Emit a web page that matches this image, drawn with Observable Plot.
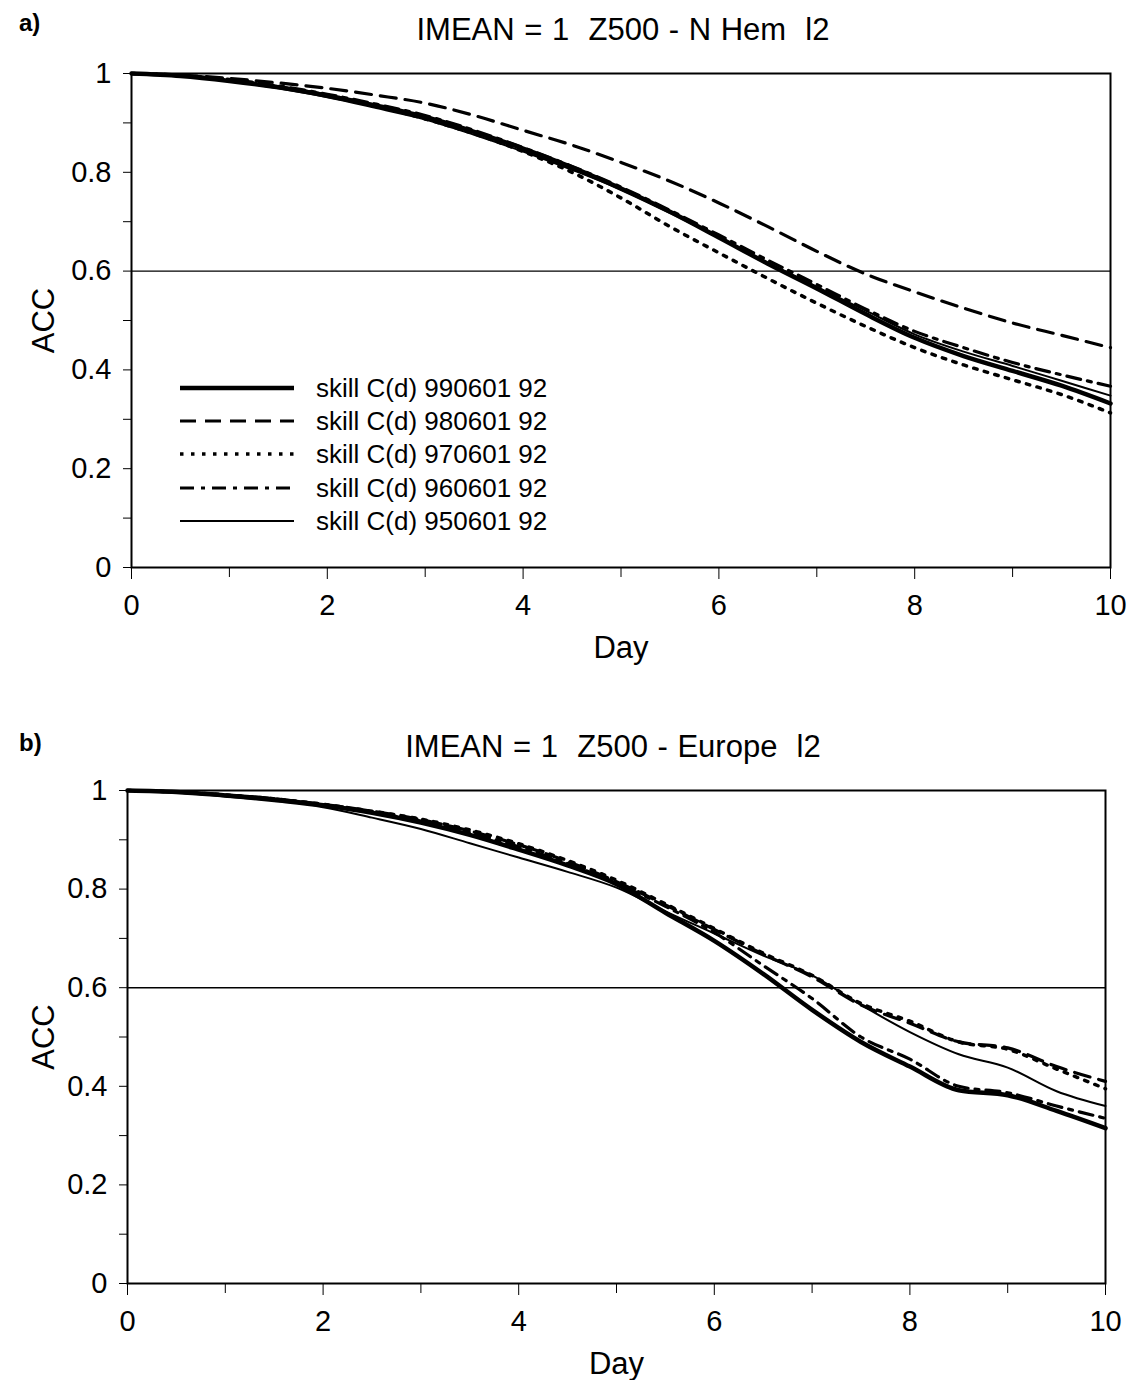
<!DOCTYPE html>
<html><head><meta charset="utf-8">
<script src="https://cdn.jsdelivr.net/npm/d3@7"></script>
<script src="https://cdn.jsdelivr.net/npm/@observablehq/plot@0.6"></script>
<style>
body{margin:0;background:#fff;font-family:"Liberation Sans",Arial,sans-serif;color:#000;}
#wrap{position:relative;width:1131px;height:1380px;overflow:hidden;background:#fff;}
.panel{position:absolute;left:0;width:1131px;}
.tag{position:absolute;font-weight:bold;font-size:24px;line-height:1;}
.title{position:absolute;font-size:31px;white-space:pre;line-height:1;transform:translateX(-50%);word-spacing:1px;}
.legend{position:absolute;font-size:26px;line-height:1;}
.legend .row{display:flex;align-items:center;height:33.3px;}
.legend svg{margin-right:20px;}
</style></head><body><div id="wrap"></div>
<script>
// ---- data ----
const days = [0,0.5,1,1.5,2,2.5,3,3.5,4,4.5,5,5.5,6,6.5,7,7.5,8,8.5,9,9.5,10];
const seriesNames = ["skill C(d) 990601 92","skill C(d) 980601 92","skill C(d) 970601 92","skill C(d) 960601 92","skill C(d) 950601 92"];

// panel a: Z500 - N Hem
const nhem990 = [1,.995,.985,.972,.955,.935,.912,.882,.848,.81,.767,.72,.668,.615,.565,.513,.465,.428,.398,.368,.332];
const nhem980 = [1,.997,.99,.981,.97,.956,.94,.915,.885,.855,.82,.782,.738,.69,.64,.594,.558,.525,.495,.47,.445];
const nhem970 = [1,.996,.987,.973,.956,.934,.908,.878,.842,.8,.748,.69,.637,.585,.535,.488,.445,.41,.38,.35,.313];
const nhem960 = [1,.996,.988,.975,.958,.938,.915,.885,.85,.812,.77,.723,.673,.622,.573,.523,.478,.445,.415,.39,.367];
const nhem950 = [1,.995,.985,.97,.952,.93,.907,.876,.842,.805,.765,.718,.668,.616,.568,.52,.472,.437,.408,.378,.348];

// panel b: Z500 - Europe
const eur990 = [1,.997,.99,.982,.97,.955,.935,.91,.88,.848,.81,.752,.695,.628,.555,.49,.44,.392,.382,.35,.315];
const eur980 = [1,.997,.991,.983,.972,.958,.941,.918,.89,.856,.815,.768,.718,.668,.622,.565,.528,.49,.478,.44,.41];
const eur970 = [1,.997,.991,.983,.972,.958,.942,.92,.892,.858,.818,.77,.72,.67,.625,.568,.532,.49,.475,.435,.395];
const eur960 = [1,.997,.99,.982,.97,.956,.938,.915,.886,.852,.812,.765,.712,.645,.578,.5,.455,.4,.387,.36,.335];
const eur950 = [1,.996,.988,.978,.966,.945,.922,.893,.864,.835,.803,.755,.71,.665,.625,.565,.51,.465,.438,.39,.36];

const xMajorTicks = [0,2,4,6,8,10];
const xMinorTicks = [1,3,5,7,9];
const yMajorTicks = [0,0.2,0.4,0.6,0.8,1];
const yMinorTicks = [0.1,0.3,0.5,0.7,0.9];
const refLevel = [0.6];

// ---- styles (not data) ----
const lineStyles = [
  {w:4.5, dash:null},
  {w:3.2, dash:"16,9"},
  {w:3.5, dash:"3.5,7.5"},
  {w:3.2, dash:"14,7,4,7"},
  {w:2, dash:null}
];
const tickFont = "'Liberation Sans', Arial, sans-serif";
const labelFont = "'Liberation Sans', Arial, sans-serif";

function buildRows(valueArrays){
  const rows = [];
  valueArrays.forEach((vals,i)=>vals.forEach((v,j)=>rows.push({day:days[j], acc:v, key:seriesNames[i]})));
  return rows;
}

function makePanel(valueArrays, m){
  const rows = buildRows(valueArrays);
  return Plot.plot({
    width:1131, height:690,
    marginLeft:m.left, marginRight:m.right, marginTop:m.top, marginBottom:m.bottom,
    x:{domain:[0,10]}, y:{domain:[0,1]},
    style:{fontFamily:labelFont, fontSize:"31px", color:"#000", background:"transparent"},
    marks:[
      Plot.ruleY(refLevel,{stroke:"#000", strokeWidth:1.4}),
      ...seriesNames.map((name,i)=>Plot.line(rows.filter(r=>r.key===name),{
        x:"day", y:"acc", curve:"monotone-x", stroke:"#000",
        strokeWidth:lineStyles[i].w, strokeDasharray:lineStyles[i].dash
      })),
      Plot.frame({stroke:"#000", strokeWidth:2}),
      Plot.axisX({ticks:xMajorTicks, tickSize:12, tickPadding:15, tickFormat:d3.format("d"),
        fontFamily:tickFont, fontSize:29, label:null}),
      Plot.axisX({ticks:xMinorTicks, tickSize:10, tickFormat:()=>"", label:null}),
      Plot.axisX({ticks:[5], tickSize:0, tickFormat:()=>"",
        label:"Day", labelAnchor:"center", labelArrow:"none", labelOffset:m.xLabelOffset}),
      Plot.axisY({ticks:yMajorTicks, tickSize:8, tickPadding:12,
        tickFormat:d=>(d===0||d===1)?String(d):d3.format(".1f")(d),
        fontFamily:tickFont, fontSize:29, label:null}),
      Plot.axisY({ticks:yMinorTicks, tickSize:8, tickFormat:()=>"", label:null}),
      Plot.axisY({ticks:[0.5], tickSize:0, tickFormat:()=>"",
        label:"ACC", labelAnchor:"center", labelArrow:"none", labelOffset:m.yLabelOffset})
    ]
  });
}

const wrap = document.getElementById("wrap");

function addPanel(top, valueArrays, m, tag, title, tagPos, titlePos){
  const div = document.createElement("div");
  div.className = "panel";
  div.style.top = top+"px";
  div.appendChild(makePanel(valueArrays, m));
  wrap.appendChild(div);
  const t = document.createElement("div");
  t.className="tag"; t.textContent=tag; t.style.left=tagPos[0]+"px"; t.style.top=tagPos[1]+"px";
  wrap.appendChild(t);
  const h = document.createElement("div");
  h.className="title"; h.textContent=title; h.style.left=titlePos[0]+"px"; h.style.top=titlePos[1]+"px";
  wrap.appendChild(h);
}

addPanel(0, [nhem990,nhem980,nhem970,nhem960,nhem950],
  {left:131,right:21,top:73,bottom:123,xLabelOffset:90,yLabelOffset:100},
  "a)", "IMEAN = 1  Z500 - N Hem  l2", [19,11], [623,14]);
addPanel(690, [eur990,eur980,eur970,eur960,eur950],
  {left:127,right:26,top:100,bottom:97,xLabelOffset:90,yLabelOffset:96},
  "b)", "IMEAN = 1  Z500 - Europe  l2", [19,731], [613,731]);

// legend (panel a)
const leg = document.createElement("div");
leg.className="legend"; leg.style.left="178px"; leg.style.top="371px";
seriesNames.forEach((name,i)=>{
  const row = document.createElement("div"); row.className="row";
  const svg = d3.create("svg").attr("width",118).attr("height",20);
  svg.append("line").attr("x1",2).attr("x2",116).attr("y1",10).attr("y2",10)
    .attr("stroke","#000").attr("stroke-width",lineStyles[i].w)
    .attr("stroke-dasharray",lineStyles[i].dash);
  row.appendChild(svg.node());
  const span=document.createElement("span"); span.textContent=name; row.appendChild(span);
  leg.appendChild(row);
});
wrap.appendChild(leg);
</script></body></html>
